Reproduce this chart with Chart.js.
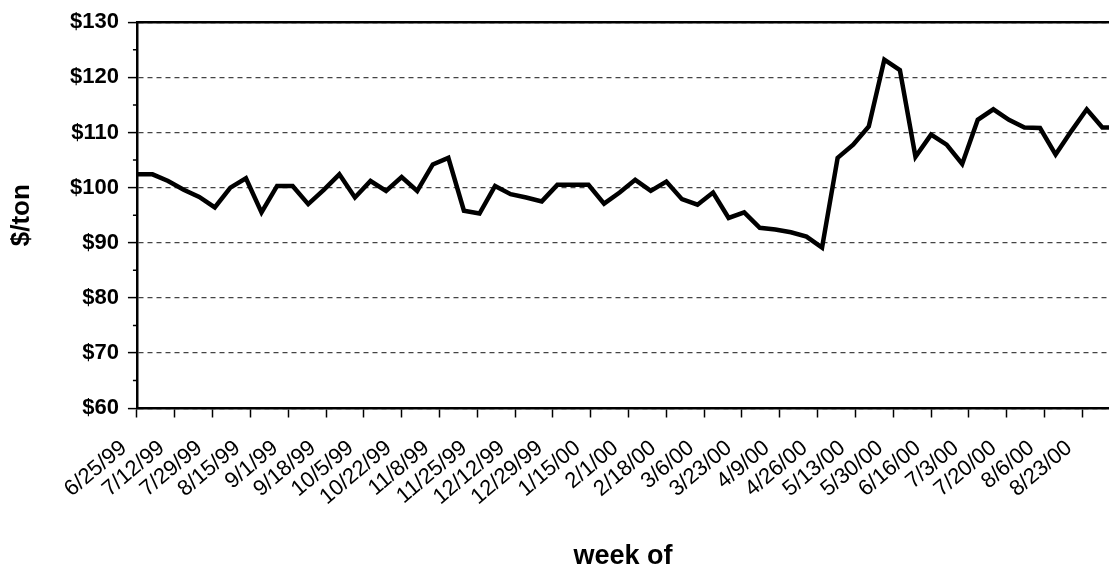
<!DOCTYPE html>
<html>
<head>
<meta charset="utf-8">
<script src="https://cdn.jsdelivr.net/npm/chart.js@4.4.1/dist/chart.umd.min.js"></script>
<style>
  html, body { margin: 0; padding: 0; background: #fff; }
  #wrap { width: 1109px; height: 567px; }
</style>
</head>
<body>
<div id="wrap"><canvas id="chart" width="1109" height="567"></canvas></div>
<script>
// Weekly price observations ($/ton), one per week starting 6/25/99
const weekOf = [
  '6/25/99', '7/2/99', '7/9/99', '7/16/99', '7/23/99', '7/30/99', '8/6/99', '8/13/99',
  '8/20/99', '8/27/99', '9/3/99', '9/10/99', '9/17/99', '9/24/99', '10/1/99', '10/8/99',
  '10/15/99', '10/22/99', '10/29/99', '11/5/99', '11/12/99', '11/19/99', '11/26/99', '12/3/99',
  '12/10/99', '12/17/99', '12/24/99', '12/31/99', '1/7/00', '1/14/00', '1/21/00', '1/28/00',
  '2/4/00', '2/11/00', '2/18/00', '2/25/00', '3/3/00', '3/10/00', '3/17/00', '3/24/00',
  '3/31/00', '4/7/00', '4/14/00', '4/21/00', '4/28/00', '5/5/00', '5/12/00', '5/19/00',
  '5/26/00', '6/2/00', '6/9/00', '6/16/00', '6/23/00', '6/30/00', '7/7/00', '7/14/00',
  '7/21/00', '7/28/00', '8/4/00', '8/11/00', '8/18/00', '8/25/00', '9/1/00', '9/8/00'
];

const pricePerTon = [
  102.4, 102.4, 101.2, 99.6, 98.3, 96.4, 100.0, 101.7,
  95.5, 100.3, 100.3, 97.0, 99.6, 102.4, 98.2, 101.2,
  99.4, 101.9, 99.4, 104.2, 105.4, 95.8, 95.3, 100.3,
  98.8, 98.2, 97.5, 100.5, 100.5, 100.5, 97.1, 99.1,
  101.4, 99.4, 101.1, 97.9, 96.9, 99.1, 94.5, 95.5,
  92.7, 92.4, 91.9, 91.1, 89.1, 105.4, 107.8, 111.1,
  123.2, 121.3, 105.6, 109.6, 107.8, 104.3, 112.3, 114.2,
  112.3, 110.9, 110.8, 106.0, 110.2, 114.2, 110.9, 110.9
];

// Date-axis labels, one every 17 days from 6/25/99
const tickLabels = [
  '6/25/99', '7/12/99', '7/29/99', '8/15/99', '9/1/99', '9/18/99', '10/5/99',
  '10/22/99', '11/8/99', '11/25/99', '12/12/99', '12/29/99', '1/15/00', '2/1/00',
  '2/18/00', '3/6/00', '3/23/00', '4/9/00', '4/26/00', '5/13/00', '5/30/00',
  '6/16/00', '7/3/00', '7/20/00', '8/6/00', '8/23/00'
];
const tickStepDays = 17;
const axisEndDays = 437;

const yTickValues = [60, 70, 80, 90, 100, 110, 120, 130];
const yMinorTickValues = [65, 75, 85, 95, 105, 115, 125];

// days elapsed since the first week
function daysSinceStart(s) {
  const parse = (t) => {
    const [m, d, y] = t.split('/').map(Number);
    return Date.UTC(y < 50 ? 2000 + y : 1900 + y, m - 1, d);
  };
  return Math.round((parse(s) - parse(weekOf[0])) / 86400000);
}

const FONT = "'Liberation Sans', Arial, Helvetica, sans-serif";

// top frame line and short minor ticks on the value axis
const frameAndMinorTicks = {
  id: 'frameAndMinorTicks',
  afterDraw(chart) {
    const { ctx, chartArea: a, scales: { y } } = chart;
    ctx.save();
    ctx.strokeStyle = '#000';
    ctx.lineWidth = 2.5;
    ctx.beginPath();
    ctx.moveTo(a.left - 1, a.top);
    ctx.lineTo(a.right, a.top);
    ctx.stroke();
    ctx.lineWidth = 1.5;
    ctx.beginPath();
    yMinorTickValues.forEach((v) => {
      const py = y.getPixelForValue(v);
      ctx.moveTo(a.left - 4, py);
      ctx.lineTo(a.left, py);
    });
    ctx.stroke();
    ctx.restore();
  }
};

new Chart(document.getElementById('chart'), {
  type: 'line',
  data: {
    datasets: [{
      data: weekOf.map((w, i) => ({ x: daysSinceStart(w), y: pricePerTon[i] })),
      borderColor: '#000',
      borderWidth: 4.5,
      borderJoinStyle: 'miter',
      pointRadius: 0,
      tension: 0,
      fill: false
    }]
  },
  options: {
    responsive: false,
    animation: false,
    events: [],
    layout: { padding: { top: 21, right: 0, bottom: 0, left: 0 } },
    plugins: { legend: { display: false }, tooltip: { enabled: false } },
    scales: {
      x: {
        type: 'linear',
        min: 0,
        max: axisEndDays,
        afterBuildTicks: (scale) => {
          scale.ticks = tickLabels.map((_, i) => ({ value: i * tickStepDays }));
        },
        ticks: {
          autoSkip: false,
          minRotation: 40,
          maxRotation: 40,
          padding: 2,
          labelOffset: -13,
          color: '#000',
          font: { family: FONT, size: 22 },
          callback: (v) => tickLabels[Math.round(v / tickStepDays)] ?? ''
        },
        grid: {
          drawOnChartArea: false,
          drawTicks: true,
          // long tick slot keeps the labels clear of the axis; only the first 8px are inked
          tickLength: 25,
          tickBorderDash: [8, 100],
          tickColor: '#000',
          tickWidth: 1.5
        },
        border: { display: true, color: '#000', width: 2.5 },
        title: {
          display: true,
          text: 'week of',
          color: '#000',
          font: { family: FONT, size: 27, weight: 'bold', lineHeight: 0.8 },
          padding: { top: 33, bottom: 0 }
        }
      },
      y: {
        min: 60,
        max: 130,
        afterBuildTicks: (scale) => {
          scale.ticks = yTickValues.map((v) => ({ value: v }));
        },
        ticks: {
          padding: 9,
          color: '#000',
          font: { family: FONT, size: 22, weight: 'bold' },
          callback: (v) => '$' + v
        },
        grid: {
          color: '#444',
          lineWidth: 1.2,
          drawTicks: true,
          tickLength: 9,
          tickColor: '#000',
          tickWidth: 1.5,
          tickBorderDash: []
        },
        border: { display: true, color: '#000', width: 2.5, dash: [5, 4] },
        title: {
          display: true,
          text: '$/ton',
          color: '#000',
          font: { family: FONT, size: 26, weight: 'bold', lineHeight: 1 },
          padding: { top: 9, bottom: 26 }
        }
      }
    }
  },
  plugins: [frameAndMinorTicks]
});
</script>
</body>
</html>
